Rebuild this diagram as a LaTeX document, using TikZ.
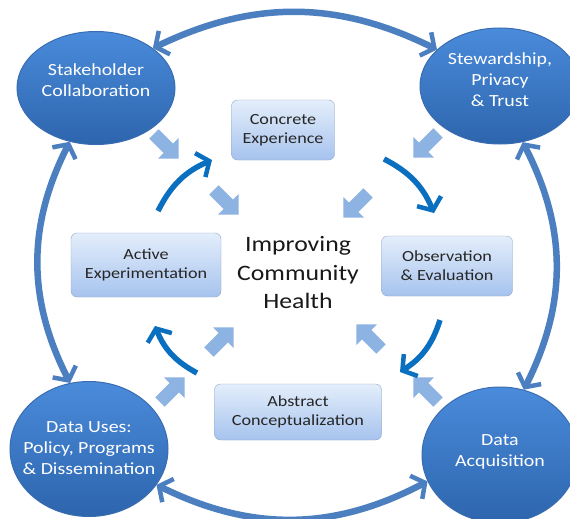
\documentclass[tikz,border=0pt]{standalone}
\usepackage{fontspec}
\setmainfont{Carlito}[FakeStretch=1.17]
\usetikzlibrary{shapes.geometric,shapes.arrows,arrows.meta,positioning}
\definecolor{hubtop}{HTML}{4A8BDB}
\definecolor{hubbot}{HTML}{2D65AD}
\definecolor{hubedge}{HTML}{3A6DB0}
\definecolor{stagetop}{HTML}{E4EEFB}
\definecolor{stagebot}{HTML}{A6C3EE}
\definecolor{stageedge}{HTML}{93A7C4}
\definecolor{ringblue}{HTML}{4C7FC0}
\definecolor{turnblue}{HTML}{0B6FC0}
\definecolor{nudgeblue}{HTML}{8DB3E2}
\begin{document}
\begin{tikzpicture}[x=1pt,y=1pt,
    hub/.style={ellipse, draw=hubedge, line width=1pt, top color=hubtop, bottom color=hubbot, inner sep=0pt},
    hubtext/.style={text=white, align=center, font=\fontsize{17}{21}\selectfont},
    stage/.style={rectangle, rounded corners=6pt, draw=stageedge, top color=stagetop, bottom color=stagebot,
        align=center, text=black!85, font=\fontsize{15.5}{19}\selectfont},
    ring/.style={draw=ringblue, line width=6.5pt,
        {Straight Barb[length=10pt,width=26pt,line width=4.5pt]}-{Straight Barb[length=10pt,width=26pt,line width=4.5pt]}},
    turn/.style={draw=turnblue, line width=5.5pt, -{Straight Barb[length=10pt,width=26pt,line width=4.5pt]}},
    nudge/.style={single arrow, fill=nudgeblue, draw=none, minimum height=35pt,
        single arrow head extend=8pt, inner sep=6.5pt}]
  \useasboundingbox (0,0) rectangle (570,-519);
  \fill[white] (0,0) rectangle (570,-519);
  % light arrows towards the centre:
  \node[nudge, rotate=-45] (n1) at (164,-144) {};
  \node[nudge, rotate=-45] (n2) at (224,-200) {};
  \node[nudge, rotate=-135] (n3) at (428,-143) {};
  \node[nudge, rotate=-135] (n4) at (358,-203) {};
  \node[nudge, rotate=135] (n5) at (371,-339) {};
  \node[nudge, rotate=135] (n6) at (428,-392) {};
  \node[nudge, rotate=45] (n7) at (170,-392) {};
  \node[nudge, rotate=45] (n8) at (219,-342) {};
  % outer ring:
  \node[hub, minimum width=158pt, minimum height=113pt,
        label={[hubtext, yshift=8pt]center:{Stakeholder\\Collaboration}}] (stake) at (96,-88) {};
  \node[hub, minimum width=160pt, minimum height=116pt,
        label={[hubtext, yshift=6pt]center:{Stewardship,\\Privacy\\\& Trust}}] (stew) at (500,-86) {};
  \node[hub, minimum width=158pt, minimum height=135pt,
        label={[hubtext, yshift=1pt]center:{Data Uses:\\Policy, Programs\\\& Dissemination}}] (uses) at (89,-449) {};
  \node[hub, minimum width=156pt, minimum height=136pt,
        label={[hubtext, yshift=3pt]center:{Data\\Acquisition}}] (acq) at (500,-455) {};
  % learning cycle:
  \node[stage, minimum width=103pt, minimum height=60pt] (conc) at (283,-130) {Concrete\\Experience};
  \node[stage, minimum width=131pt, minimum height=60pt] (obs) at (447,-266) {Observation\\\& Evaluation};
  \node[stage, minimum width=167pt, minimum height=56pt] (abs) at (298,-412) {Abstract\\Conceptualization};
  \node[stage, minimum width=150pt, minimum height=64pt] (act) at (146,-265) {Active\\Experimentation};
  \node[align=center, font=\fontsize{22}{28.5}\selectfont, text=black!90] (goal) at (298,-273)
        {Improving\\Community\\Health};
  % ring connectors:
  \draw[ring] (stake.35) to[bend left=26] (stew.150);
  \draw[ring] (stake.244) to[bend right=27] (uses.106);
  \draw[ring] (stew.292) to[bend left=27] (acq.70);
  \draw[ring] (uses.332) to[bend right=27] (acq.200);
  % cycle arrows:
  \coordinate (a1s) at (158,-211);
  \coordinate (a1e) at (212,-160);
  \coordinate (a2s) at (384,-159);
  \coordinate (a2e) at (434,-213);
  \coordinate (a3s) at (440,-320);
  \coordinate (a3e) at (400,-372);
  \coordinate (a4s) at (197,-373);
  \coordinate (a4e) at (155,-326);
  \draw[turn] (a1s) to[bend left=20] (a1e);
  \draw[turn] (a2s) to[bend left=20] (a2e);
  \draw[turn] (a3s) to[bend left=20] (a3e);
  \draw[turn] (a4s) to[bend left=20] (a4e);
\end{tikzpicture}
\end{document}
